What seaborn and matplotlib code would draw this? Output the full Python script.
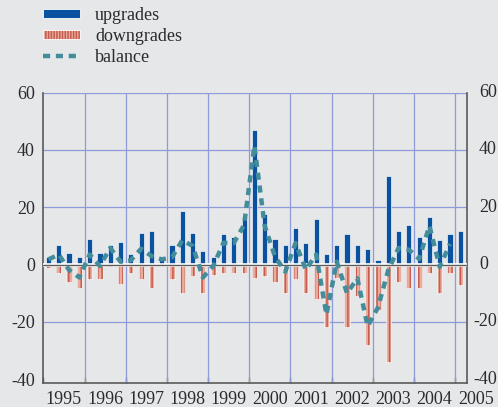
import numpy as np
import pandas as pd
import matplotlib
matplotlib.use("Agg")
import matplotlib.pyplot as plt
import matplotlib.colors as mcolors
from matplotlib.patches import Patch
from matplotlib.lines import Line2D
from matplotlib.ticker import FixedLocator, NullFormatter
import seaborn as sns

# Quarterly rating actions, 1995Q1 - 2005Q1
years = list(range(1995, 2006))
quarters = [f"{y}Q{q}" for y in years for q in range(1, 5)][:41]

upgrades = [
    2.5, 6.8, 3.9, 2.7,
    8.9, 3.9, 6.8, 8.0,
    3.7, 10.9, 11.7, 1.6,
    6.7, 18.8, 10.9, 4.8,
    2.7, 10.6, 9.7, 16.7,
    46.9, 17.5, 8.8, 6.8,
    12.6, 7.6, 15.8, 3.7,
    6.8, 10.6, 6.8, 5.6,
    1.6, 30.9, 11.8, 13.8,
    9.5, 16.7, 8.5, 10.6,
    11.8,
]
downgrades = [
    -1.1, -2.9, -6.0, -8.0,
    -5.0, -5.0, -0.8, -6.8,
    -2.9, -5.2, -8.1, 0.0,
    -5.0, -10.0, -4.0, -10.0,
    -3.7, -2.9, -2.9, -2.9,
    -4.8, -4.0, -6.0, -10.0,
    -5.0, -10.0, -12.0, -21.9,
    -4.8, -21.9, -11.0, -28.1,
    -15.9, -33.9, -6.0, -8.1,
    -8.1, -2.9, -9.8, -2.9,
    -7.2,
]
balance = [
    1.8, 3.5, -1.9, -4.5,
    3.5, -0.5, 5.8, 1.0,
    1.5, 5.5, 3.0, 1.8,
    2.5, 8.5, 6.5, -4.5,
    -0.5, 7.6, 7.5, 13.8,
    41.5, 13.5, 2.8, -2.5,
    7.5, -1.8, 3.5, -17.5,
    1.0, -10.0, -4.8, -21.5,
    -15.0, -2.0, 5.8, 5.2,
    2.0, 13.5, -0.8, 7.2,
    np.nan,
]
year_labels = [str(y) for y in years]
y_ticks = [-40, -20, 0, 20, 40, 60]
series_labels = ["upgrades", "downgrades", "balance"]

BLUE = "#0a52a0"
SALMON = "#e8ad9e"
SALMON_DARK = "#c65c4e"
TEAL = "#438c9a"
GRID = "#8d9cd8"
BG = "#e6e7e9"
INK = "#2b2b2b"
SPINE = "#5a5a5a"

sns.set_theme(style="white")
plt.rcParams["font.family"] = ["Liberation Serif", "DejaVu Serif"]
plt.rcParams["axes.unicode_minus"] = False
plt.rcParams["hatch.linewidth"] = 1.1

df = pd.DataFrame({
    "quarter": quarters,
    "upgrades": upgrades,
    "downgrades": downgrades,
    "balance": balance,
})
# position of each quarter on a continuous time axis (centre of the quarter)
df["t"] = [int(q[:4]) + (int(q[-1]) - 0.5) / 4 for q in df["quarter"]]

fig = plt.figure(figsize=(4.98, 4.07), dpi=100, facecolor=BG)
ax = fig.add_axes([0.087, 0.0597, 0.8501, 0.7130], facecolor=BG)

# grid lines behind the bars
for v in [-20, 20, 40, 60]:
    ax.axhline(v, color=GRID, lw=0.9, zorder=1)
for y in years[1:]:
    ax.axvline(y, color=GRID, lw=0.9, zorder=1)

sns.barplot(data=df, x="t", y="upgrades", native_scale=True, width=0.5,
            color=BLUE, saturation=1, edgecolor="white", linewidth=0.45,
            errorbar=None, ax=ax, zorder=3)
n_up = len(ax.patches)
sns.barplot(data=df, x="t", y="downgrades", native_scale=True, width=0.5,
            color=SALMON, saturation=1, edgecolor="white", linewidth=0.45,
            errorbar=None, hatch="||||", ax=ax, zorder=3)
for p in ax.patches[n_up:]:
    if hasattr(p, "set_hatchcolor"):
        p.set_hatchcolor(SALMON_DARK)
    else:
        p._hatch_color = mcolors.to_rgba(SALMON_DARK)

# zero line
ax.axhline(0, color="white", lw=2.6, zorder=4)
ax.axhline(0, color=SPINE, lw=1.0, zorder=4)

sns.lineplot(data=df, x="t", y="balance", color=TEAL, lw=3.2,
             linestyle=(0, (1.6, 1.3)), ax=ax, zorder=5)

ax.set_xlim(1995.0, 2005.28)
ax.set_ylim(-41.2, 60)
ax.set_xlabel("")
ax.set_ylabel("")

# x axis: ticks at year boundaries, year names centred in each year
ax.xaxis.set_major_locator(FixedLocator(years))
ax.xaxis.set_major_formatter(NullFormatter())
ax.tick_params(axis="x", which="major", direction="in", length=4, width=1,
               color=SPINE, bottom=True)
for y, lab in zip(years, year_labels):
    ax.annotate(lab, xy=(y + 0.5, 0), xycoords=("data", "axes fraction"),
                xytext=(0, -6), textcoords="offset points",
                ha="center", va="top", fontsize=13, color=INK,
                annotation_clip=False)

# y axis labels on both sides
ax.set_yticks(y_ticks)
ax.set_yticklabels([str(v) for v in y_ticks])
ax.tick_params(axis="y", length=0, pad=6, labelsize=13, labelcolor=INK)
for v in y_ticks:
    dx = 4.5 if v < 0 else 8.9
    ax.annotate(str(v), xy=(1, v), xycoords=("axes fraction", "data"),
                xytext=(dx, 0), textcoords="offset points",
                ha="left", va="center", fontsize=13, color=INK,
                annotation_clip=False)

for side in ["left", "right", "bottom"]:
    ax.spines[side].set_visible(True)
    ax.spines[side].set_color(SPINE)
    ax.spines[side].set_linewidth(1.2)
ax.spines["top"].set_visible(False)

handles = [
    Patch(facecolor=BLUE, edgecolor="white", linewidth=0.6),
    Patch(facecolor=SALMON, edgecolor="white", linewidth=0.6, hatch="||||||"),
    Line2D([0], [0], color=TEAL, lw=3.2, linestyle=(0, (1.6, 1.3))),
]
leg = fig.legend(handles, series_labels, loc="upper left",
                 bbox_to_anchor=(0.086, 0.983), frameon=False, fontsize=13,
                 handlelength=2.05, handletextpad=0.85, labelspacing=0.22,
                 borderpad=0, borderaxespad=0, handleheight=0.35)
for p in leg.get_patches():
    if p.get_hatch():
        if hasattr(p, "set_hatchcolor"):
            p.set_hatchcolor(SALMON_DARK)
        else:
            p._hatch_color = mcolors.to_rgba(SALMON_DARK)
for t in leg.get_texts():
    t.set_color(INK)

fig.savefig("out.png", dpi=100, facecolor=BG)
